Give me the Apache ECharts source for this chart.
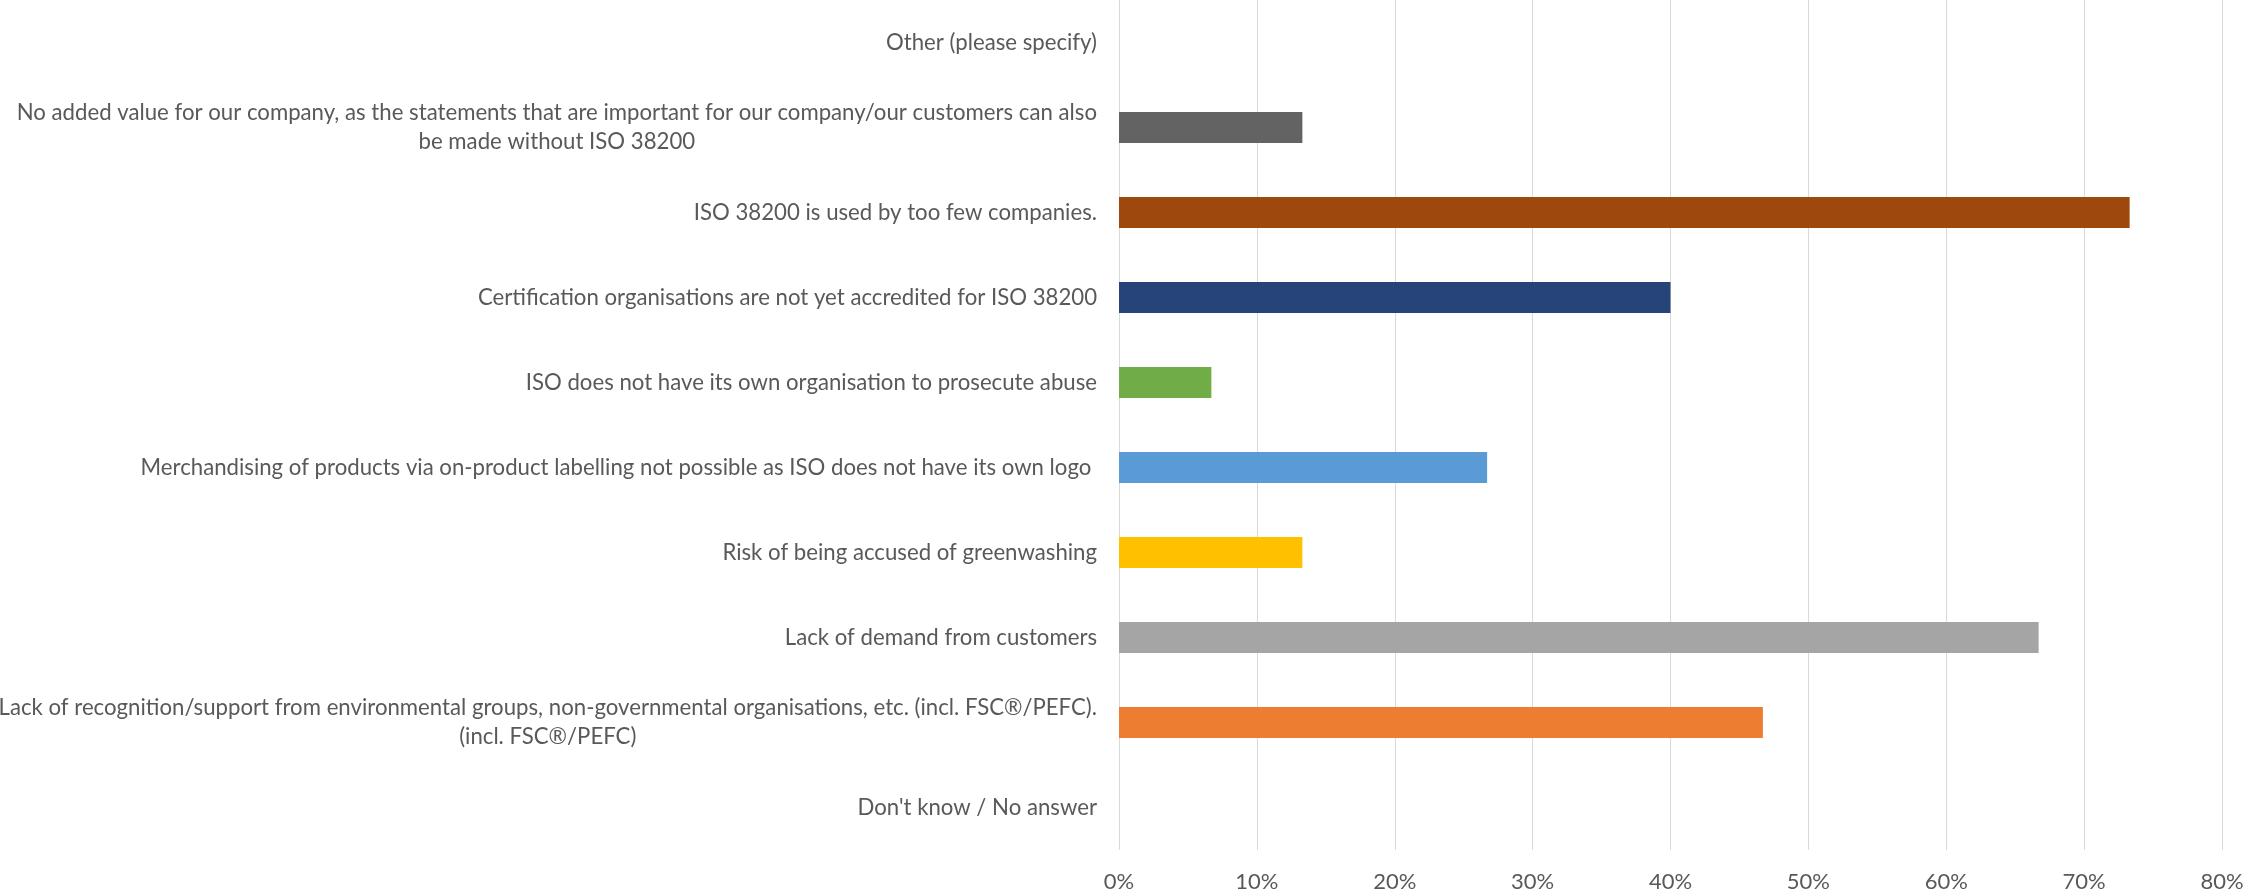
<!DOCTYPE html>
<html>
<head>
<meta charset="utf-8">
<script src="https://cdn.jsdelivr.net/npm/echarts@6/dist/echarts.min.js"></script>
<style>
  html, body { margin: 0; padding: 0; background: #fff; }
  #chart { width: 2244px; height: 894px; }
</style>
</head>
<body>
<div id="chart"></div>
<script>
// categories top to bottom
var categories = [
  "Other (please specify)",
  "No added value for our company, as the statements that are important for our company/our customers can also\nbe made without ISO 38200",
  "ISO 38200 is used by too few companies.",
  "Certification organisations are not yet accredited for ISO 38200",
  "ISO does not have its own organisation to prosecute abuse",
  "Merchandising of products via on-product labelling not possible as ISO does not have its own logo ",
  "Risk of being accused of greenwashing",
  "Lack of demand from customers",
  "Lack of recognition/support from environmental groups, non-governmental organisations, etc. (incl. FSC®/PEFC).\n(incl. FSC®/PEFC)",
  "Don't know / No answer"
];
// percent of respondents
var values = [0, 13.3, 73.3, 40, 6.7, 26.7, 13.3, 66.7, 46.7, 0];
var barColors = ["#997300", "#636363", "#9E480E", "#264478", "#70AD47", "#5B9BD5", "#FFC000", "#A5A5A5", "#ED7D31", "#4472C4"];
var xTicks = [0, 10, 20, 30, 40, 50, 60, 70, 80];

var font = "Lato";
var textColor = "#595959";

var chart = echarts.init(document.getElementById("chart"));

var option = {
  animation: false,
  grid: {
    left: 1119,
    right: 22,
    top: 0,
    bottom: 44,
    containLabel: false,
    outerBoundsMode: "none"
  },
  xAxis: {
    type: "value",
    min: xTicks[0],
    max: xTicks[xTicks.length - 1],
    interval: 10,
    axisLine: { show: false },
    axisTick: { show: false },
    axisLabel: {
      margin: 21,
      fontFamily: font,
      fontSize: 22,
      color: textColor,
      formatter: "{value}%"
    },
    splitLine: {
      show: true,
      lineStyle: { color: "#D9D9D9", width: 1 }
    }
  },
  yAxis: {
    type: "category",
    data: categories,
    inverse: true,
    axisLine: { show: false },
    axisTick: { show: false },
    splitLine: { show: false },
    axisLabel: {
      margin: 22,
      interval: 0,
      fontFamily: font,
      fontSize: 22.2,
      color: textColor,
      formatter: function (v) {
        // centre the second line under the first one, like the original wrap
        return v.split("\n").map(function (l) { return "{c|" + l + "}"; }).join("\n");
      },
      rich: {
        c: {
          align: "center",
          fontFamily: font,
          fontSize: 22.2,
          color: textColor,
          lineHeight: 29
        }
      }
    }
  },
  series: [
    {
      type: "bar",
      data: values.map(function (v, i) {
        return { value: v, itemStyle: { color: barColors[i] } };
      }),
      barWidth: 31
    }
  ]
};

chart.setOption(option);
</script>
</body>
</html>
